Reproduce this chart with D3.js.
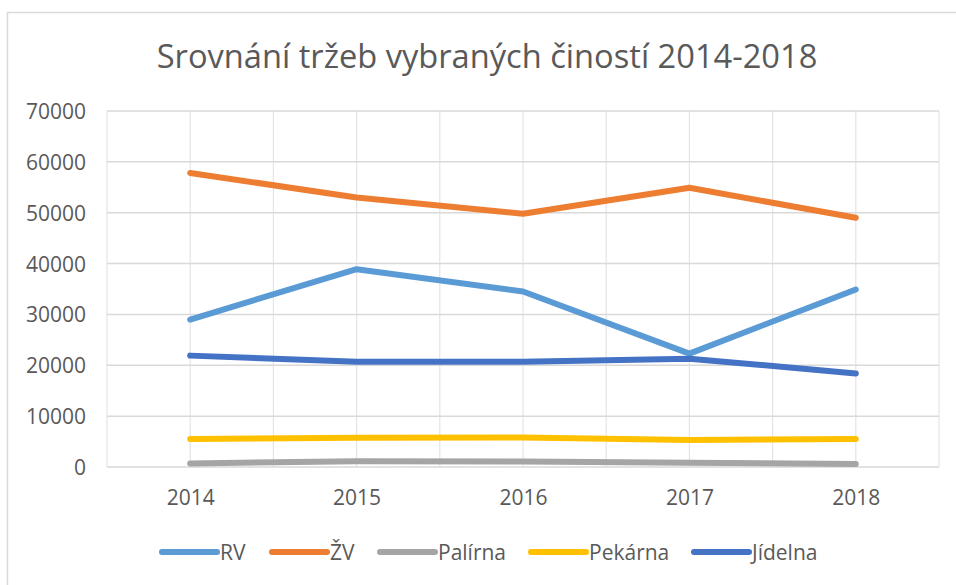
<!DOCTYPE html>
<html>
<head>
<meta charset="utf-8">
<script src="https://cdn.jsdelivr.net/npm/d3@7"></script>
<style>
  body { margin: 0; background: #fff; }
  text { font-family: "Open Sans", "Noto Sans", sans-serif; fill: #595959; }
</style>
</head>
<body>
<div id="chart"></div>
<script>
var years = ["2014", "2015", "2016", "2017", "2018"];
var yTicks = [0, 10000, 20000, 30000, 40000, 50000, 60000, 70000];

var rv = [29000, 38900, 34500, 22300, 34900];
var zv = [57800, 53000, 49800, 54900, 49000];
var palirna = [700, 1150, 1100, 850, 600];
var pekarna = [5500, 5750, 5800, 5300, 5500];
var jidelna = [21900, 20700, 20700, 21300, 18400];

var seriesNames = ["RV", "ŽV", "Palírna", "Pekárna", "Jídelna"];
var seriesColors = ["#5B9BD5", "#ED7D31", "#A5A5A5", "#FFC000", "#4472C4"];
var seriesValues = [rv, zv, palirna, pekarna, jidelna];

var width = 956, height = 585;
var plot = {left: 107, right: 939, top: 111, bottom: 467};

var svg = d3.select("#chart").append("svg")
  .attr("width", width).attr("height", height);

// chart frame
svg.append("rect")
  .attr("x", 7.5).attr("y", 12.5)
  .attr("width", 1000).attr("height", 700)
  .attr("fill", "none").attr("stroke", "#d9d9d9").attr("stroke-width", 1.5);

var x = d3.scalePoint().domain(years).range([plot.left, plot.right]).padding(0.5);
var y = d3.scaleLinear().domain([0, 70000]).range([plot.bottom, plot.top]);

// vertical gridlines at category edges and centres
var step = x.step();
var vLines = d3.range(0, years.length * 2 + 1).map(function(i) { return plot.left + i * step / 2; });
svg.append("g").selectAll("line")
  .data(vLines)
  .enter().append("line")
  .attr("x1", function(d) { return d; })
  .attr("x2", function(d) { return d; })
  .attr("y1", plot.top).attr("y2", plot.bottom)
  .attr("stroke", "#e4e4e4").attr("stroke-width", 1.2);

// horizontal gridlines
svg.append("g").selectAll("line")
  .data(yTicks)
  .enter().append("line")
  .attr("x1", plot.left).attr("x2", plot.right)
  .attr("y1", function(d) { return y(d); })
  .attr("y2", function(d) { return y(d); })
  .attr("stroke", "#d9d9d9").attr("stroke-width", 1.5);

// y axis
var yAxis = svg.append("g")
  .attr("transform", "translate(86,0)")
  .call(d3.axisLeft(y).tickValues(yTicks).tickSize(0).tickPadding(0).tickFormat(d3.format("d")));
yAxis.select(".domain").remove();
yAxis.selectAll("text")
  .attr("font-size", 21)
  .attr("fill", "#595959")
  .attr("font-family", "Open Sans")
  .attr("dy", "0.36em");

// x axis
var xAxis = svg.append("g")
  .attr("transform", "translate(0," + plot.bottom + ")")
  .call(d3.axisBottom(x).tickSize(0).tickPadding(0));
xAxis.select(".domain").remove();
xAxis.selectAll("text")
  .attr("font-size", 21)
  .attr("fill", "#595959")
  .attr("font-family", "Open Sans")
  .attr("y", 38)
  .attr("dy", 0);

// lines
var line = d3.line()
  .x(function(d, i) { return x(years[i]); })
  .y(function(d) { return y(d); });

svg.append("g").selectAll("path")
  .data(seriesValues)
  .enter().append("path")
  .attr("d", line)
  .attr("fill", "none")
  .attr("stroke", function(d, i) { return seriesColors[i]; })
  .attr("stroke-width", 6)
  .attr("stroke-linecap", "round")
  .attr("stroke-linejoin", "round");

// title
var title = svg.append("text")
  .attr("x", 487).attr("y", 68)
  .attr("text-anchor", "middle")
  .attr("font-size", 32)
  .text("Srovnání tržeb vybraných čiností 2014-2018");
var tw = title.node().getComputedTextLength();
title.attr("font-size", 32 * 661 / tw);

// legend
var legendX = [162, 272, 380, 531, 694];
var legend = svg.append("g").selectAll("g")
  .data(seriesNames)
  .enter().append("g")
  .attr("transform", function(d, i) { return "translate(" + legendX[i] + ",552)"; });
legend.append("line")
  .attr("x1", 0).attr("x2", 55)
  .attr("stroke", function(d, i) { return seriesColors[i]; })
  .attr("stroke-width", 6)
  .attr("stroke-linecap", "round");
legend.append("text")
  .attr("x", 58).attr("dy", "0.36em")
  .attr("font-size", 21)
  .text(function(d) { return d; });
</script>
</body>
</html>
